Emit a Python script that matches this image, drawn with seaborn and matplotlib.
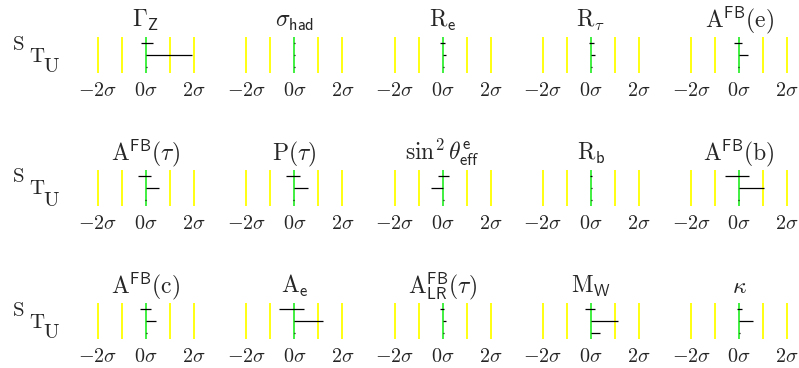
import matplotlib
matplotlib.use("Agg")
import matplotlib.pyplot as plt
import seaborn as sns
import pandas as pd

titles = [r'$\Gamma_{\mathsf{Z}}$', r'$\sigma_{\mathsf{had}}$', r'$\mathrm{R}_{\mathsf{e}}$',
          r'$\mathrm{R}_{\tau}$', r'$\mathrm{A}^{\mathsf{FB}}(\mathrm{e})$',
          r'$\mathrm{A}^{\mathsf{FB}}(\tau)$', r'$\mathrm{P}(\tau)$',
          r'$\sin^2\theta^{\mathsf{e}}_{\mathsf{eff}}$', r'$\mathrm{R}_{\mathsf{b}}$',
          r'$\mathrm{A}^{\mathsf{FB}}(\mathrm{b})$',
          r'$\mathrm{A}^{\mathsf{FB}}(\mathrm{c})$', r'$\mathrm{A}_{\mathsf{e}}$',
          r'$\mathrm{A}^{\mathsf{FB}}_{\mathsf{LR}}(\tau)$', r'$\mathrm{M}_{\mathsf{W}}$',
          r'$\kappa$']

# pull in units of sigma
s_lo = [-0.21, -0.03, -0.10, -0.10, -0.20, -0.32, -0.33, -0.18, -0.03, -0.60, -0.24, -0.65, -0.11, -0.26, -0.11]
s_hi = [0.30, 0.03, 0.10, 0.12, 0.13, 0.21, 0.22, 0.28, 0.03, 0.39, 0.20, 0.42, 0.07, 0.15, 0.10]
t_val = [1.92, 0.04, 0.15, 0.18, 0.36, 0.56, 0.58, -0.47, 0.04, 1.04, 0.43, 1.19, 0.14, 1.11, 0.56]
u_val = [0.04, 0.04, 0.04, 0.04, -0.04, -0.04, -0.04, 0.04, 0.04, -0.04, 0.04, 0.04, 0.04, 0.36, 0.04]

sigma_lines = [-2, -1, 1, 2]
tick_pos = [-2, 0, 2]
tick_labels = [r'$-2\sigma$', r'$0\sigma$', r'$2\sigma$']

sns.set_style("white")
plt.rcParams['mathtext.fontset'] = 'cm'
plt.rcParams['font.family'] = ['DejaVu Serif']

df = pd.DataFrame({"title": titles, "s_lo": s_lo, "s_hi": s_hi, "t": t_val, "u": u_val})

W, H = 799, 368
fig = plt.figure(figsize=(W / 100, H / 100), dpi=100)

for i, row in df.iterrows():
    r, c = divmod(i, 5)
    cx = 146 + 148.3 * c
    top = 37 + 133 * r
    ax = fig.add_axes([(cx - 60) / W, 1 - (top + 36) / H, 120 / W, 36 / H])
    ax.set_xlim(-2.5, 2.5)
    ax.set_ylim(0, 3)
    for x in sigma_lines:
        ax.axvline(x, color="#ffff00", lw=1.3)
    ax.axvline(0, color="#33ee33", lw=1.3)
    ax.hlines(2.5, row.s_lo, row.s_hi, color="black", lw=0.9)
    ax.hlines(1.5, 0, row.t, color="black", lw=0.9)
    ax.hlines(0.5, 0, row.u, color="black", lw=0.9)
    ax.set_yticks([])
    ax.set_xticks(tick_pos)
    ax.set_xticklabels(tick_labels, fontsize=14.5)
    ax.tick_params(axis="x", length=0, pad=6)
    ax.set_title(row.title, fontsize=17, pad=7)
    sns.despine(ax=ax, left=True, bottom=True)

for r in range(3):
    y0 = 133 * r
    fig.text(18 / W, 1 - (44 + y0) / H, r'$\mathrm{S}$', fontsize=15, ha="center", va="center")
    fig.text(37 / W, 1 - (56 + y0) / H, r'$\mathrm{T}$', fontsize=15, ha="center", va="center")
    fig.text(51 / W, 1 - (67 + y0) / H, r'$\mathrm{U}$', fontsize=15, ha="center", va="center")

fig.savefig("out.png", dpi=100)
